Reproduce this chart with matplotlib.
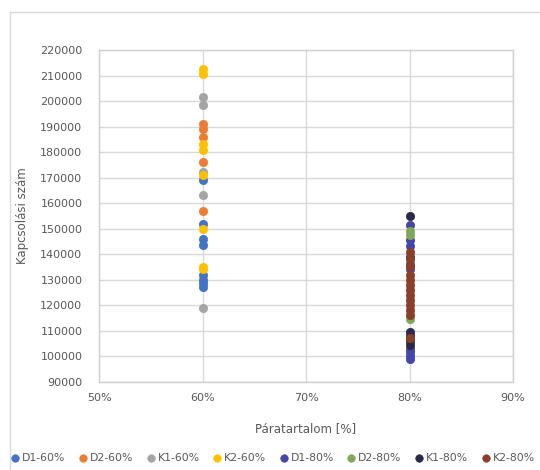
import matplotlib
matplotlib.use("Agg")
import matplotlib.pyplot as plt
from matplotlib.lines import Line2D
from matplotlib.ticker import FuncFormatter, MultipleLocator

# ---- data ----
series_names = ["D1-60%", "D2-60%", "K1-60%", "K2-60%",
                "D1-80%", "D2-80%", "K1-80%", "K2-80%"]
series_x = [0.6, 0.6, 0.6, 0.6, 0.8, 0.8, 0.8, 0.8]

D1_60 = [169000, 152000, 146000, 143500, 132000, 130000, 128500, 127000]
D2_60 = [191000, 189000, 186000, 176000, 157000]
K1_60 = [201500, 198500, 172000, 163000, 119000]
K2_60 = [212500, 210500, 183000, 181000, 171000, 150000, 135000, 134000]

D1_80 = [151500, 145500, 143000, 136000, 134000, 103000, 101500, 100000, 99000]
D2_80 = [149000, 147500, 114500]
K1_80 = [155000, 139000, 109500, 108000, 106000, 104500]
K2_80 = [141000, 138000, 135500, 132000, 130000, 128000, 126000, 124000,
         122000, 120000, 118000, 116000, 107000]

series_vals = [D1_60, D2_60, K1_60, K2_60, D1_80, D2_80, K1_80, K2_80]
colors = ["#4472C4", "#ED7D31", "#A5A5A5", "#FFC000",
          "#4646A8", "#7FA858", "#2A2A48", "#8A4028"]

x_ticks = [0.5, 0.6, 0.7, 0.8, 0.9]
y_min, y_max, y_step = 90000, 220000, 10000

fig = plt.figure(figsize=(5.4, 4.7), dpi=100)
bx, by = 10 / 540, 1 - 12 / 470
fig.lines.append(Line2D([bx, bx], [0, by], transform=fig.transFigure,
                        color="#d9d9d9", linewidth=1.0))
fig.lines.append(Line2D([bx, 1], [by, by], transform=fig.transFigure,
                        color="#d9d9d9", linewidth=1.0))

ax = fig.add_axes([99 / 540, 1 - 381.7 / 470, 414 / 540, (381.7 - 50) / 470])

for name, xv, vals, c in zip(series_names, series_x, series_vals, colors):
    ax.scatter([xv] * len(vals), vals, s=36, color=c, label=name,
               edgecolors=c, linewidths=0.5, zorder=3)

ax.set_xlim(0.5, 0.9)
ax.set_ylim(y_min, y_max)
ax.set_xticks(x_ticks)
ax.xaxis.set_major_formatter(FuncFormatter(lambda v, p: f"{v*100:.0f}%"))
ax.yaxis.set_major_locator(MultipleLocator(y_step))
ax.yaxis.set_major_formatter(FuncFormatter(lambda v, p: f"{v:.0f}"))
ax.grid(True, color="#d9d9d9", linewidth=1.0, zorder=0)
ax.set_axisbelow(True)
for sp in ax.spines.values():
    sp.set_color("#d0d0d0")
    sp.set_linewidth(1.0)
ax.tick_params(axis="y", length=0, labelsize=8, colors="#595959", pad=12)
ax.tick_params(axis="x", length=0, labelsize=8, colors="#595959", pad=8)

ax.set_xlabel("Páratartalom [%]", fontsize=8.5, color="#595959", labelpad=14)
ax.set_ylabel("Kapcsolási szám", fontsize=8.5, color="#595959", labelpad=8)

fig.legend(loc="center", bbox_to_anchor=(0.505, 1 - 458 / 470), ncol=8,
           frameon=False, fontsize=7.8, handletextpad=0.25, handlelength=0.8,
           columnspacing=1.2, markerscale=0.9, labelcolor="#595959",
           borderaxespad=0)

fig.savefig("out.png", dpi=100)
